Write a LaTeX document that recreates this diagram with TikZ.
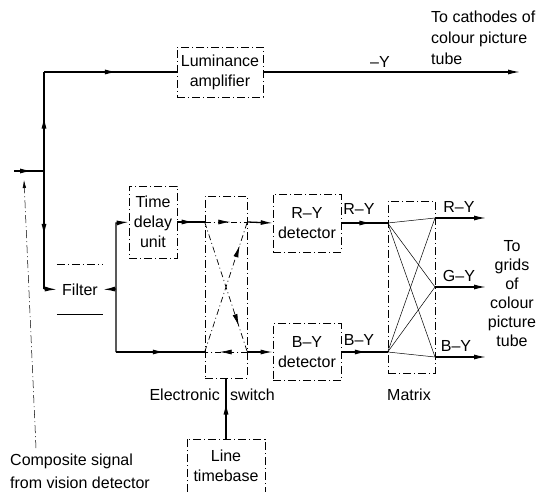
\documentclass[tikz,border=0pt]{standalone}
\usepackage{fontspec}
\setmainfont{Liberation Sans}
\usetikzlibrary{arrows.meta, positioning, decorations.markings}

\begin{document}
\begin{tikzpicture}[
    x=1pt, y=-1pt,
    >={Latex[length=12pt,width=5pt]},
    every node/.style={font=\fontsize{16}{20}\selectfont},
    blk/.style={draw, dash pattern=on 8pt off 3pt on 1pt off 3pt,
                line width=0.6pt, align=center, inner sep=0pt},
    sig/.style={line width=1.3pt},
    midarr/.style={postaction={decorate}, decoration={markings,
        mark=at position #1 with {\arrow{Latex[length=12pt,width=5pt]}}}},
    swline/.style={dash pattern=on 6pt off 3pt on 1pt off 3pt,
                   line width=0.7pt},
    mx/.style={line width=0.5pt},
    lbl/.style={inner sep=1pt}
  ]
  \useasboundingbox (0,0) rectangle (547,492);

  % Blocks
  \node[blk, minimum width=86pt, minimum height=50pt] (lum) at (220,72)
    {Luminance\\amplifier};
  \node[blk, minimum width=48pt, minimum height=72pt] (tdu) at (153,222)
    {Time\\delay\\unit};
  \node[inner sep=0pt, minimum width=46pt, minimum height=49pt] (filt)
    at (80,289.5) {Filter};
  \node[blk, minimum width=42pt, minimum height=182pt] (sw) at (226,287) {};
  \node[blk, minimum width=68pt, minimum height=58pt] (ryd) at (307,223)
    {R--Y\\detector};
  \node[blk, minimum width=68pt, minimum height=57pt] (byd) at (307,352)
    {B--Y\\detector};
  \node[blk, minimum width=47pt, minimum height=172pt] (mtx) at (411.5,287) {};
  \node[inner sep=0pt, minimum width=78pt, minimum height=53pt,
        align=center] (ltb) at (226,465.5) {Line\\timebase};

  % Filter and timebase outlines
  \draw[dash pattern=on 8pt off 3pt on 1pt off 3pt, line width=0.6pt]
    (filt.north west) -- (filt.north east);
  \draw[line width=0.6pt] (filt.south west) -- (filt.south east);
  \draw[dash pattern=on 8pt off 3pt on 1pt off 3pt, line width=0.6pt]
    (ltb.south west) -- (ltb.north west) -- (ltb.north east)
    -- (ltb.south east);

  % Points on the signal paths
  \coordinate (in) at (14,171);
  \coordinate (jn) at (44,171);
  \coordinate (tl) at (44,72);
  \coordinate (bl) at (44,289);
  \coordinate (fk) at (116,289);
  \coordinate (fkt) at (116,223);
  \coordinate (fkb) at (116,352);
  \coordinate (cath) at (520,72);
  \coordinate (swtl) at (sw.west |- tdu.east);
  \coordinate (swtr) at (sw.east |- tdu.east);
  \coordinate (swbl) at (sw.west |- byd.west);
  \coordinate (swbr) at (sw.east |- byd.west);
  \coordinate (mir) at (mtx.west |- ryd.east);
  \coordinate (mib) at (mtx.west |- byd.east);
  \coordinate (mor) at (435,218);
  \coordinate (mog) at (435,287);
  \coordinate (mob) at (435,357);
  \coordinate (outr) at (486,218);
  \coordinate (outg) at (486,287);
  \coordinate (outb) at (486,357);
  \coordinate (cs) at (36,448);
  \coordinate (cst) at (24,180);

  % Luminance path
  \draw[sig, midarr=0.6] (in) -- (jn);
  \draw[sig, midarr=0.55] (jn) -- (tl);
  \draw[sig, midarr=0.55] (tl) -- (lum.west);
  \draw[sig, ->] (lum.east) -- (cath);

  % Chrominance path
  \draw[sig, midarr=0.55] (jn) -- (bl);
  \draw[sig, ->] (bl) -- (filt.west);
  \draw[sig, ->] (fk) -- (filt.east);
  \draw[sig, ->] (fkb) -- (fk) -- (fkt) -- (tdu.west);
  \draw[sig, midarr=0.55] (fkb) -- (swbl);
  \draw[sig, midarr=0.6] (tdu.east) -- (swtl);

  % Electronic switch
  \draw[swline, midarr=0.6] (swtl) -- (swtr);
  \draw[swline, midarr=0.65] (swbr) -- (swbl);
  \draw[swline, midarr=0.8] (swtl) -- (swbr);
  \draw[swline, midarr=0.82] (swbl) -- (swtr);
  \draw[sig, ->] (swtr) -- (ryd.west);
  \draw[sig, ->] (swbr) -- (byd.west);
  \draw[sig, midarr=0.6] (ltb.north) -- (sw.south);

  % Detectors to matrix
  \draw[sig, midarr=0.65] (ryd.east) -- (mir);
  \draw[sig, midarr=0.55] (byd.east) -- (mib);
  \foreach \o in {mor, mog, mob} {
    \draw[mx] (mir) -- (\o);
    \draw[mx] (mib) -- (\o);
  }
  \draw[sig, ->] (mor) -- (outr);
  \draw[sig, ->] (mog) -- (outg);
  \draw[sig, ->] (mob) -- (outb);

  % Leader to input
  \draw[dash pattern=on 8pt off 3pt on 1pt off 3pt, line width=0.5pt,
        -{Latex[length=8pt,width=3.5pt]}] (cs) -- (cst);

  % Labels
  \node[lbl, anchor=west, align=left, font=\fontsize{16}{21}\selectfont]
    (cathtxt) at (430,38) {To cathodes of\\colour picture\\tube};
  \node[lbl] (ylbl) at (380,62) {--Y};
  \node[lbl] (rylbl) at (359,209) {R--Y};
  \node[lbl] (bylbl) at (359,340) {B--Y};
  \node[lbl] (orlbl) at (459,207) {R--Y};
  \node[lbl] (oglbl) at (459,276) {G--Y};
  \node[lbl] (oblbl) at (456,346) {B--Y};
  \node[lbl, align=center, font=\fontsize{16}{19}\selectfont] (grids)
    at (512,294) {To\\grids\\of\\colour\\picture\\tube};
  \node[lbl, anchor=east] (eltxt) at (221,395) {Electronic};
  \node[lbl, anchor=west] (swtxt) at (229,395) {switch};
  \node[lbl] (mtxtxt) at (409,395) {Matrix};
  \node[lbl, anchor=west, align=left, font=\fontsize{16}{23}\selectfont]
    (cstxt) at (9,471) {Composite signal\\from vision detector};
\end{tikzpicture}
\end{document}
